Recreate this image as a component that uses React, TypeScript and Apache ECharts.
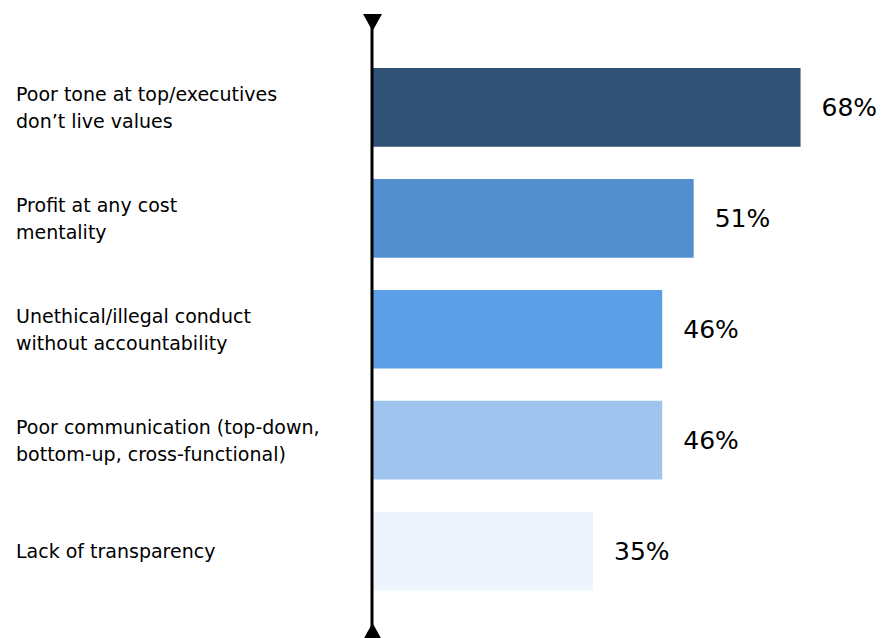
import React, { useEffect, useRef } from "react";
import * as echarts from "echarts";

const categories = [
  "Poor tone at top/executives\ndon’t live values",
  "Profit at any cost\nmentality",
  "Unethical/illegal conduct\nwithout accountability",
  "Poor communication (top-down,\nbottom-up, cross-functional)",
  "Lack of transparency",
];
const values = [68, 51, 46, 46, 35];
const colors = ["#2f5175", "#538ecf", "#5d9fe6", "#9fc5ef", "#eef4fc"];

export default function App() {
  const ref = useRef<HTMLDivElement>(null);
  useEffect(() => {
    const chart = echarts.init(ref.current!, null, { renderer: "svg" });
    const font = "'DejaVu Sans', sans-serif";
    chart.setOption({
      animation: false,
      grid: { left: 373, right: 10, top: 52, bottom: 31.5, containLabel: false },
      xAxis: {
        type: "value",
        min: 0,
        max: 80,
        show: false,
      },
      yAxis: {
        type: "category",
        data: categories,
        inverse: true,
        axisLine: { show: false },
        axisTick: { show: false },
        axisLabel: {
          align: "left",
          margin: 357,
          fontFamily: font,
          fontSize: 19,
          lineHeight: 27,
          padding: [3, 0, 0, 0],
          color: "#000",
        },
      },
      series: [
        {
          type: "bar",
          data: values.map((v, i) => ({ value: v, itemStyle: { color: colors[i] } })),
          barCategoryGap: "29%",
          label: {
            show: true,
            position: "right",
            distance: 21,
            formatter: "{c}%",
            fontFamily: font,
            fontSize: 25,
            color: "#000",
          },
        },
      ],
      graphic: [
        {
          type: "line",
          shape: { x1: 372, y1: 14, x2: 372, y2: 638 },
          style: { stroke: "#000", lineWidth: 3 },
          z: 100,
        },
        {
          type: "polygon",
          shape: { points: [[363, 14], [382, 14], [372.5, 31]] },
          style: { fill: "#000" },
          z: 100,
        },
        {
          type: "polygon",
          shape: { points: [[363, 640], [382, 640], [372.5, 623]] },
          style: { fill: "#000" },
          z: 100,
        },
      ],
    });
    return () => chart.dispose();
  }, []);
  return <div ref={ref} style={{ width: 886, height: 638, position: "absolute", left: 0, top: 0 }} />;
}
